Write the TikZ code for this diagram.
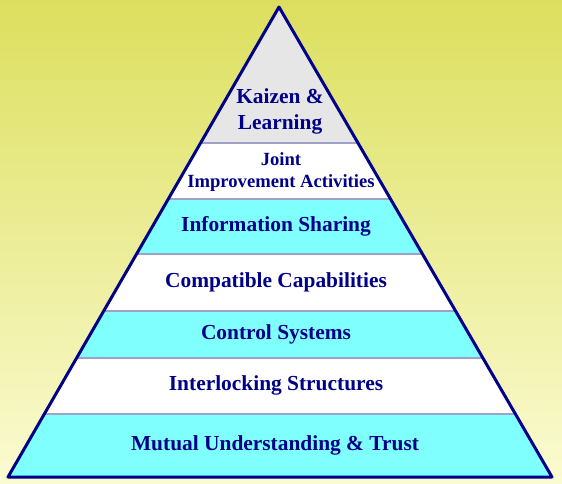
\documentclass[tikz,border=0pt]{standalone}
\usepackage{fontspec}
\setmainfont{Liberation Serif}
\definecolor{bgtop}{HTML}{DCDF5E}
\definecolor{bgbot}{HTML}{FBFBD2}
\definecolor{navy}{HTML}{000088}
\definecolor{divider}{HTML}{A0A0C8}
\definecolor{band}{HTML}{80FFFF}
\definecolor{tipgray}{HTML}{E6E6E6}

\begin{document}
\begin{tikzpicture}[x=1pt, y=-1pt, line join=round]
    \tikzset{level/.style={font=\fontsize{21.4}{26}\selectfont\bfseries, text=navy, align=center}}
    \tikzset{small level/.style={level, font=\fontsize{18.6}{22}\selectfont\bfseries}}
    \useasboundingbox (0,0) rectangle (562,483);
    \shade[top color=bgtop, bottom color=bgbot] (0,0) rectangle (562,483);
    \coordinate (apex) at (279,7);
    \coordinate (bl) at (8,477);
    \coordinate (br) at (552,477);
    % layers, clipped to the pyramid
    \begin{scope}
        \clip (apex) -- (bl) -- (br) -- cycle;
        \fill[tipgray] (0,0) rectangle (562,143);
        \foreach \ya/\yb/\col in {143/199/white, 199/254/band, 254/311/white, 311/358/band, 358/414/white, 414/477/band} {
            \fill[\col] (0,\ya) rectangle (562,\yb);
        }
        \foreach \y in {143, 199, 254, 311, 358, 414} {
            \draw[divider, line width=2pt] (0,\y) -- (562,\y);
        }
    \end{scope}
    \draw[navy, line width=3pt] (apex) -- (bl) -- (br) -- cycle;
    \node[level] (kaizen) at (280,111) {Kaizen \&\\Learning};
    \node[small level] (joint) at (281,172) {Joint\\Improvement Activities};
    \node[level] (info) at (276,226) {Information Sharing};
    \node[level] (compat) at (276,282) {Compatible Capabilities};
    \node[level] (control) at (276,334) {Control Systems};
    \node[level] (interlock) at (276,385) {Interlocking Structures};
    \node[level] (mutual) at (275,445) {Mutual Understanding \& Trust};
\end{tikzpicture}
\end{document}
